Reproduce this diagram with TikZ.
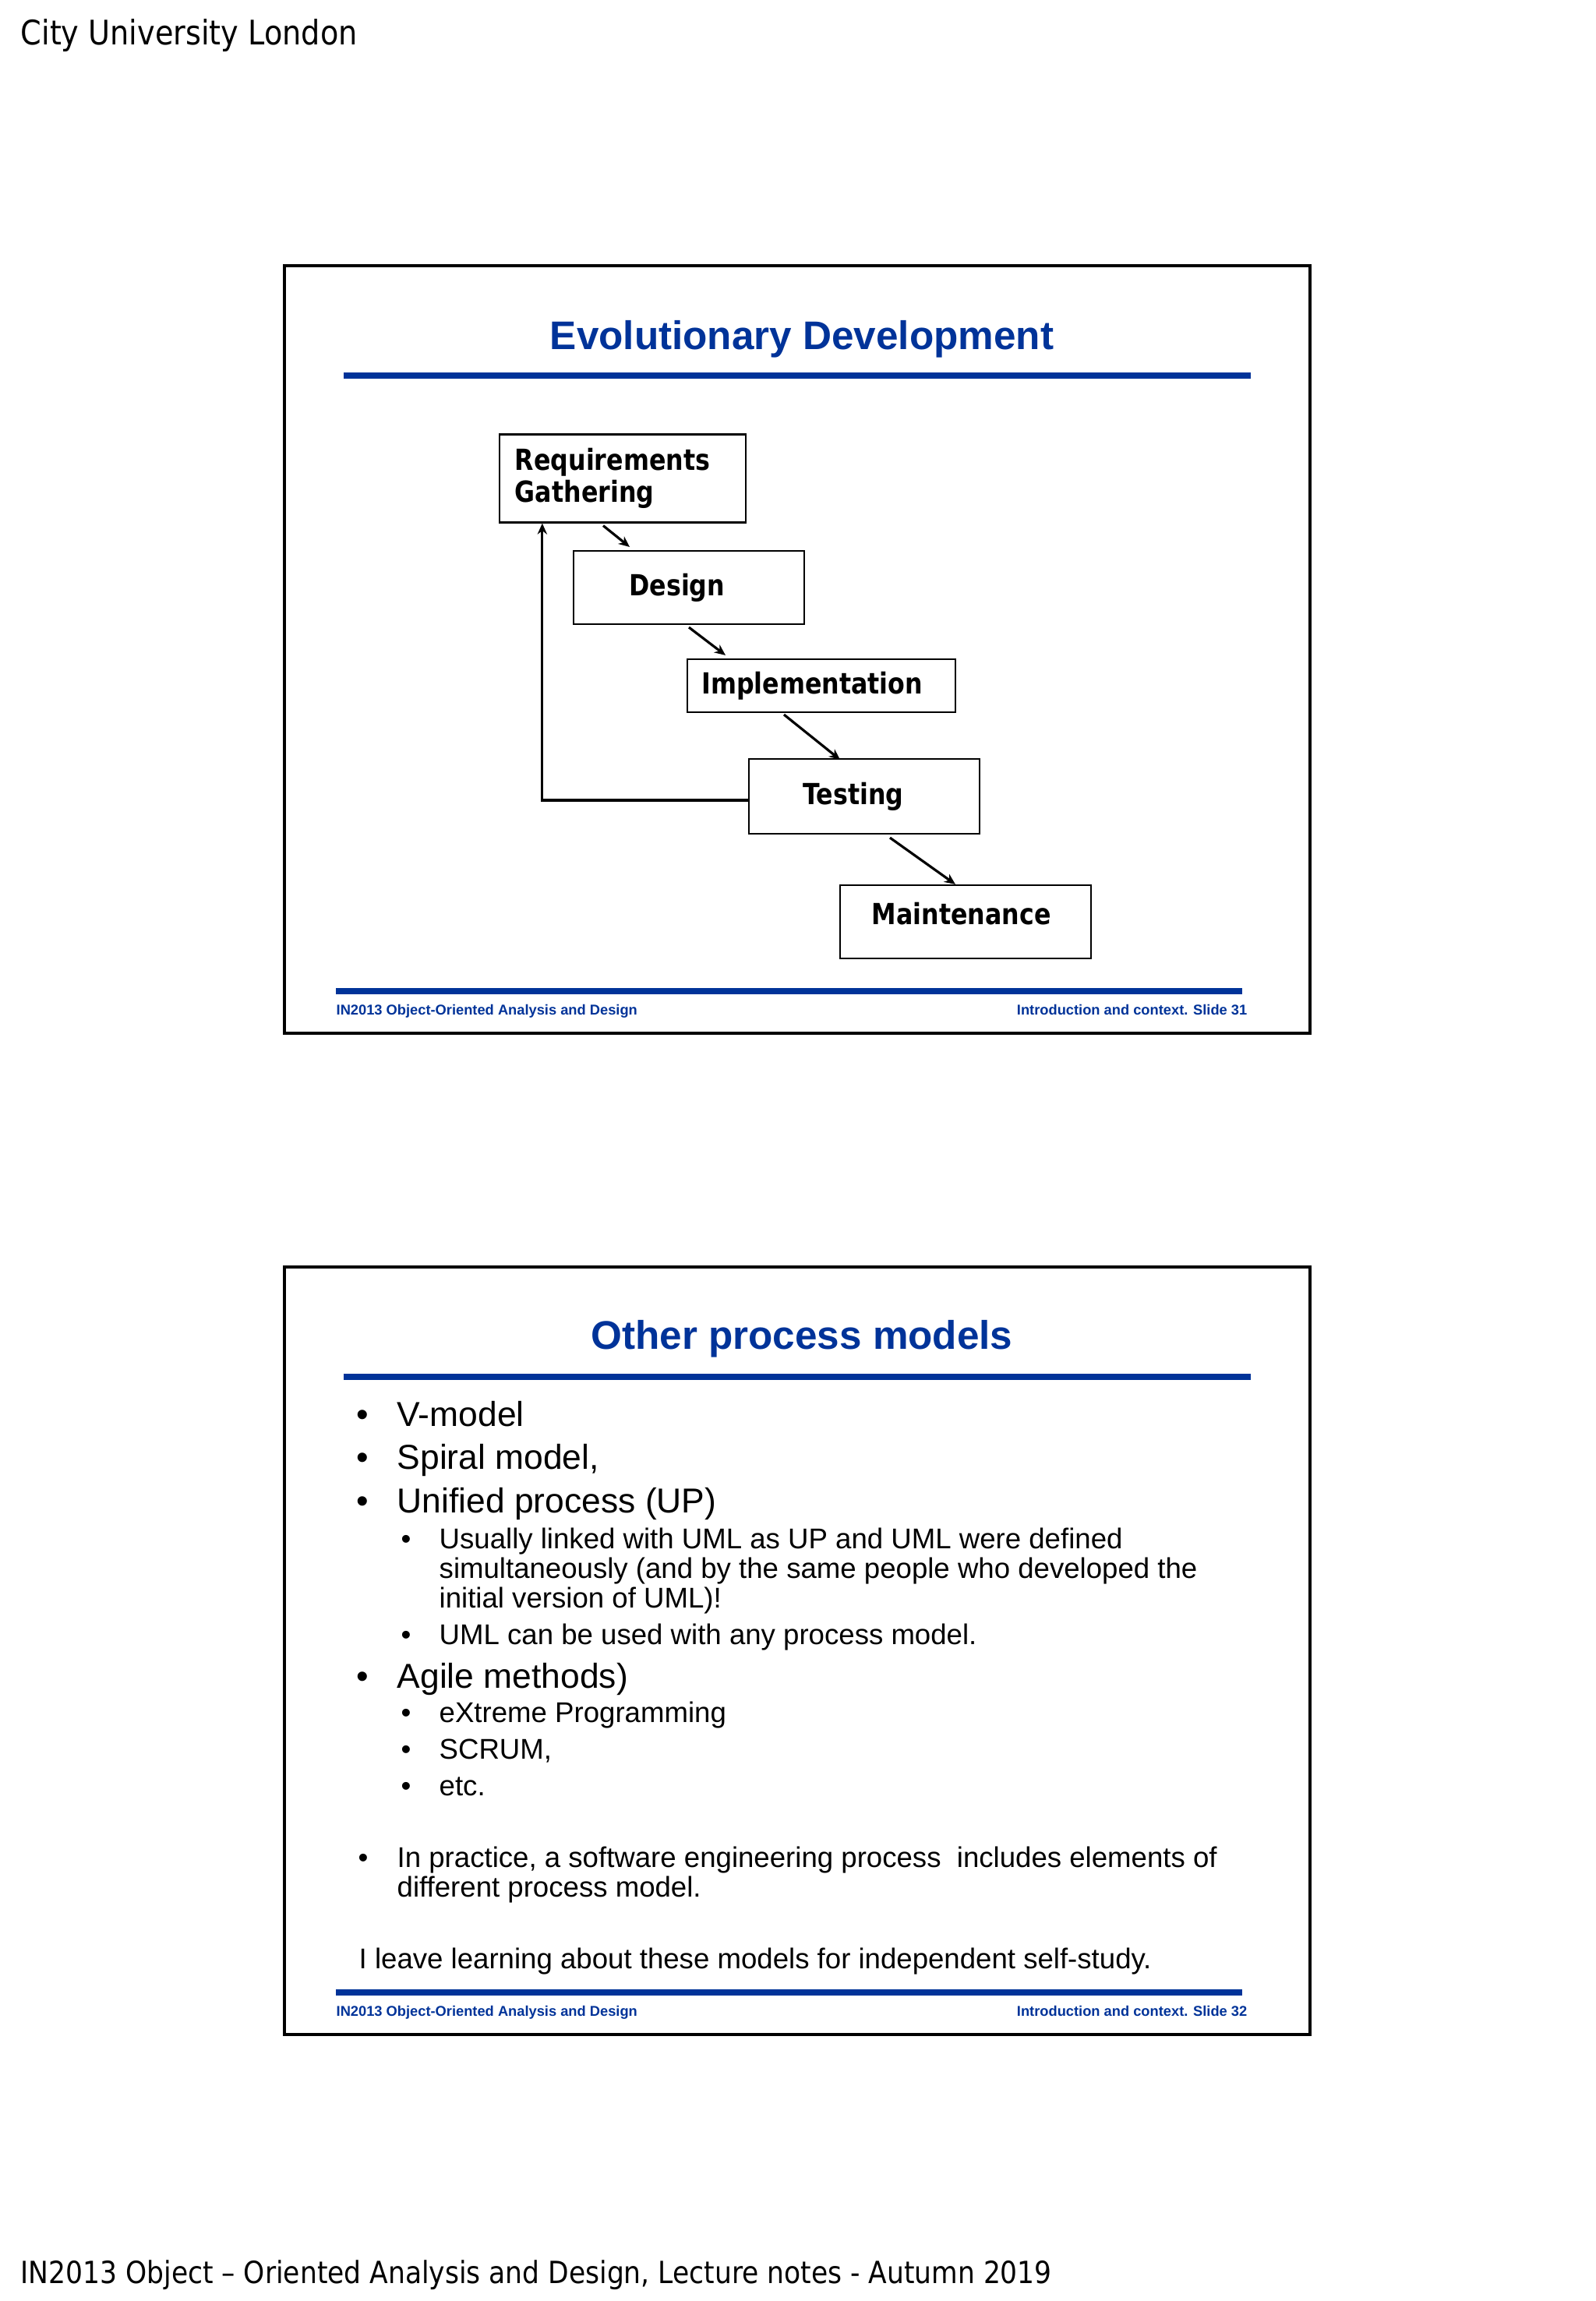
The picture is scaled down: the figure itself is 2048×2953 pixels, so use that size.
\documentclass[tikz,border=0pt]{standalone}
\usepackage{fontspec}
\usepackage{tikz}
\usepackage{xcolor}
\usetikzlibrary{arrows.meta, positioning, calc}
\setmainfont{Liberation Sans}
\newfontfamily\boxfont[FakeStretch=0.85]{DejaVu Sans}
\newfontfamily\headfont[FakeStretch=0.88]{DejaVu Sans}
\definecolor{slideblue}{RGB}{0,51,153}
\tikzstyle{pbox}=[rectangle, draw=black, line width=0.6pt, fill=white,
  font=\boxfont\bfseries\fontsize{10.6}{11.7}\selectfont, inner sep=0pt, align=left]
\tikzstyle{farr}=[-{Stealth[length=4pt, width=3.5pt]}, line width=0.9pt]
\tikzstyle{frame}=[draw=black, line width=1.3pt]
\tikzstyle{brule}=[draw=slideblue, line width=2.3pt]
\tikzstyle{ttl}=[font=\bfseries\fontsize{14.57}{17}\selectfont,
  text=slideblue, inner sep=0pt, anchor=base]
\tikzstyle{foot}=[font=\bfseries\fontsize{5.2}{6}\selectfont,
  text=slideblue, inner sep=0pt]
\tikzstyle{lone}=[font=\fontsize{12.63}{14}\selectfont, inner sep=0pt, anchor=base west]
\tikzstyle{ltwo}=[font=\fontsize{10.41}{10.8}\selectfont, inner sep=0pt, anchor=base west]

\begin{document}
\begin{tikzpicture}[x=0.01cm, y=-0.01cm]
        \useasboundingbox (0,0) rectangle (2048,2953);
        \fill[white] (0,0) rectangle (2048,2953);
        % page header and footer
        \node[font=\headfont\fontsize{12.35}{14}\selectfont, inner sep=0pt, anchor=base west]
          (head) at (26,57) {City University London};
        \node[font=\headfont\fontsize{11.15}{13}\selectfont, inner sep=0pt, anchor=base west]
          (notes) at (26,2930) {IN2013 Object – Oriented Analysis and Design, Lecture notes - Autumn 2019};

        % slide 31
        \draw[frame] (365,341) rectangle (1681,1326);
        \node[ttl] (t1) at (1029,448) {Evolutionary Development};
        \draw[brule] (441,482) -- (1605,482);
        \node[pbox, minimum width=3.16cm, minimum height=1.13cm, text width=2.76cm]
          (req) at (799,614) {Requirements\\Gathering};
        \node[pbox, minimum width=2.95cm, minimum height=0.94cm, text width=1.53cm]
          (des) at (884,754) {Design};
        \node[pbox, minimum width=3.44cm, minimum height=0.68cm, text width=3.07cm]
          (imp) at (1054,880) {Implementation};
        \node[pbox, minimum width=2.96cm, minimum height=0.96cm, text width=1.57cm]
          (test) at (1109,1022) {Testing};
        \node[pbox, minimum width=3.22cm, minimum height=0.94cm, text width=2.40cm,
          text depth=0.22cm] (maint) at (1239,1183) {Maintenance};
        \draw[farr] ($(req.south)+(-25,3)$) -- ($(des.north)+(-76,-4)$);
        \draw[farr] ($(des.south)+(0,3)$) -- ($(imp.north)+(-123,-4)$);
        \draw[farr] ($(imp.south)+(-48,2)$) -- ($(test.north)+(-31,2)$);
        \draw[farr] ($(test.south)+(33,4)$) -- ($(maint.north)+(-13,0)$);
        \draw[farr] ($(test.west)+(0,5)$) -| ($(req.south west)+(56,0)$);
        \draw[brule] (431,1272) -- (1594,1272);
        \node[foot, anchor=base west] (f1l) at (431,1302) {IN2013 Object-Oriented Analysis and Design};
        \node[foot, anchor=base east] (f1r) at (1601,1302) {Introduction and context. Slide 31};

        % slide 32
        \draw[frame] (365,1626) rectangle (1681,2611);
        \node[ttl] (t2) at (1029,1731) {Other process models};
        \draw[brule] (441,1767) -- (1605,1767);
        \node[lone] (d1) at (457,1830) {•};
        \node[lone] (i1) at (509,1830) {V-model};
        \node[lone] (d2) at (457,1885) {•};
        \node[lone] (i2) at (509,1885) {Spiral model,};
        \node[lone] (d3) at (457,1941) {•};
        \node[lone] (i3) at (509,1941) {Unified process (UP)};
        \node[ltwo] (d31) at (514,1987) {•};
        \node[ltwo] (i31a) at (563,1987) {Usually linked with UML as UP and UML were defined};
        \node[ltwo] (i31b) at (563,2025) {simultaneously (and by the same people who developed the};
        \node[ltwo] (i31c) at (563,2063) {initial version of UML)!};
        \node[ltwo] (d32) at (514,2110) {•};
        \node[ltwo] (i32) at (563,2110) {UML can be used with any process model.};
        \node[lone] (d4) at (457,2166) {•};
        \node[lone] (i4) at (509,2166) {Agile methods)};
        \node[ltwo] (d41) at (514,2210) {•};
        \node[ltwo] (i41) at (563,2210) {eXtreme Programming};
        \node[ltwo] (d42) at (514,2257) {•};
        \node[ltwo] (i42) at (563,2257) {SCRUM,};
        \node[ltwo] (d43) at (514,2304) {•};
        \node[ltwo] (i43) at (563,2304) {etc.};
        \node[ltwo] (d5) at (459,2396) {•};
        \node[ltwo] (i5a) at (509,2396) {In practice, a software engineering process\ \ includes elements of};
        \node[ltwo] (i5b) at (509,2434) {different process model.};
        \node[ltwo] (i6) at (460,2526) {I leave learning about these models for independent self-study.};
        \draw[brule] (431,2557) -- (1594,2557);
        \node[foot, anchor=base west] (f2l) at (431,2587) {IN2013 Object-Oriented Analysis and Design};
        \node[foot, anchor=base east] (f2r) at (1601,2587) {Introduction and context. Slide 32};
      \end{tikzpicture}
\end{document}
